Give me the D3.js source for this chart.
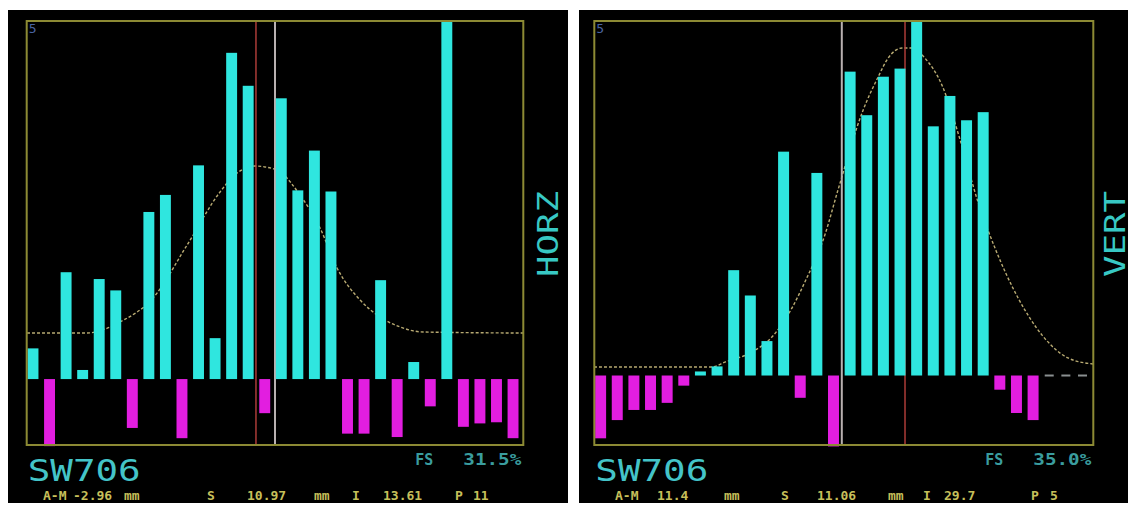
<!DOCTYPE html>
<html><head><meta charset="utf-8">
<script src="https://cdn.jsdelivr.net/npm/d3@7"></script>
<style>html,body{margin:0;padding:0;background:#fff;}svg{display:block;}</style>
</head><body>
<svg id="chart" width="1132" height="505"></svg>
<script>
// ---------------- DATA ----------------
const bins = d3.range(30); // 30 histogram bins per panel

// HORZ panel (positive = cyan, negative = magenta), % of full scale
const horzValues = [2.7, -5.9, 9.4, 0.8, 8.8, 7.8, -4.3, 14.7, 16.2, -5.2,
                    18.8, 3.6, 28.7, 25.8, -3.0, 24.7, 16.6, 20.1, 16.5, -4.8,
                    -4.8, 8.7, -5.1, 1.5, -2.4, 31.5, -4.2, -3.9, -3.8, -5.2];
// VERT panel
const vertValues = [-6.2, -4.4, -3.4, -3.4, -2.7, -1.0, 0.4, 0.9, 10.4, 7.9,
                    3.4, 22.1, -2.2, 20.0, -7.0, 30.0, 25.7, 29.5, 30.3, 35.0,
                    24.6, 27.6, 25.2, 26.0, -1.4, -3.7, -4.4, 0, 0, 0];

// fitted curves (bin position, value)
const horzCurveX = [-0.36, 3.26, 4.35, 5.26, 7.25, 9.31, 11.30, 12.33, 13.41, 14.02, 14.93, 16.13, 17.34, 18.37, 19.76, 20.97, 22.18, 23.57, 29.61];
const horzCurveY = [4.05, 4.05, 4.40, 5.02, 7.13, 11.79, 16.46, 18.13, 18.74, 18.66, 18.22, 16.19, 13.29, 9.77, 6.95, 5.46, 4.58, 4.14, 4.05];
const vertCurveX = [-0.40, 6.69, 7.48, 9.10, 10.30, 11.50, 12.28, 13.48, 14.27, 15.78, 16.68, 17.28, 18.12, 18.72, 19.50, 20.52, 21.62, 22.69, 23.71, 25.10, 26.54, 28.10, 29.60];
const vertCurveY = [0.84, 0.84, 1.33, 2.32, 3.80, 6.66, 9.23, 13.87, 18.31, 26.20, 29.46, 31.33, 32.33, 32.33, 31.33, 28.67, 23.24, 17.12, 12.58, 7.65, 3.99, 1.73, 1.14];

// marker lines (bin position): mean (red) and centre (white)
const horzMarkers = [13.47, 14.62];
const vertMarkers = [18.30, 14.50];

// scale ranges (lowest value, full scale) per panel
const horzScale = [-5.8, 31.5];
const vertScale = [-6.86, 35.0];

// texts
const panelNames = ["HORZ", "VERT"];
const titleText = "SW706";
const fsLabels = ["31.5%", "35.0%"];
const horzStats = ["A-M", "-2.96", "mm", "S", "10.97", "mm", "I", "13.61", "P", "11"];
const vertStats = ["A-M", "11.4", "mm", "S", "11.06", "mm", "I", "29.7", "P", "5"];

// ---------------- LAYOUT ----------------
const svg = d3.select("#chart");
const CYAN = "#2fe6df", MAG = "#e21ee0", FRAME = "#8c8a34";

const panels = [
  { bg: [8, 10, 560, 493], frame: {l: 26.7, r: 523.3, t: 21, b: 445}, nameX: 35,
    values: horzValues, cx: horzCurveX, cy: horzCurveY, markers: horzMarkers,
    dom: horzScale, name: panelNames[0], fs: fsLabels[0], stats: horzStats,
    statX: [43, 73, 124, 207, 247, 314, 352, 383, 455, 473] },
  { bg: [579, 10, 549, 493], frame: {l: 594.3, r: 1093.3, t: 21, b: 445}, nameX: 32,
    values: vertValues, cx: vertCurveX, cy: vertCurveY, markers: vertMarkers,
    dom: vertScale, name: panelNames[1], fs: fsLabels[1], stats: vertStats,
    statX: [615, 657, 724, 781, 817, 888, 923, 944, 1031, 1050] }
];

panels.forEach(p => {
  const g = svg.append("g");
  g.append("rect").attr("x", p.bg[0]).attr("y", p.bg[1]).attr("width", p.bg[2]).attr("height", p.bg[3]).attr("fill", "#000");
  const f = p.frame;
  const x = d3.scaleLinear().domain([-0.38, 29.62]).range([f.l, f.r]);
  const y = d3.scaleLinear().domain(p.dom).range([f.b, f.t]);
  const bw = x(0.33) - x(-0.33);

  // fitted curve (beneath bars)
  const pts = p.cx.map((v, i) => [v, p.cy[i]]);
  g.append("path").datum(pts)
    .attr("d", d3.line().x(d => x(d[0])).y(d => y(d[1])).curve(d3.curveMonotoneX))
    .attr("fill", "none").attr("stroke", "#b8aa72").attr("stroke-width", 1.4)
    .attr("stroke-dasharray", "3,2");

  // marker lines
  g.selectAll("line.mk").data(p.markers).join("line")
    .attr("x1", d => x(d)).attr("x2", d => x(d)).attr("y1", f.t).attr("y2", f.b)
    .attr("stroke", (d, i) => i === 0 ? "#b8403c" : "#b8b0b0")
    .attr("stroke-width", (d, i) => i === 0 ? 1.4 : 2);

  // bars
  g.selectAll("rect.bar").data(bins.filter(i => p.values[i] !== 0)).join("rect")
    .attr("x", i => x(i) - bw / 2).attr("width", bw)
    .attr("y", i => p.values[i] > 0 ? y(p.values[i]) : y(0))
    .attr("height", i => Math.abs(y(p.values[i]) - y(0)))
    .attr("fill", i => p.values[i] > 0 ? CYAN : MAG);

  // zero bins as grey dashes on the baseline
  g.selectAll("line.zero").data(bins.filter(i => p.values[i] === 0)).join("line")
    .attr("x1", i => x(i) - 5).attr("x2", i => x(i) + 4)
    .attr("y1", y(0)).attr("y2", y(0))
    .attr("stroke", "#8a8f90").attr("stroke-width", 2);

  // frame
  g.append("rect").attr("x", f.l).attr("y", f.t).attr("width", f.r - f.l).attr("height", f.b - f.t)
    .attr("fill", "none").attr("stroke", FRAME).attr("stroke-width", 2);

  // small scale label
  g.append("text").attr("x", f.l + 2).attr("y", f.t + 12).text("5")
    .attr("font-family", "DejaVu Sans Mono").attr("font-size", 13).attr("fill", "#4a64a0");

  // panel name (rotated)
  g.append("text").attr("transform", `translate(${f.r + p.nameX},${234}) rotate(-90)`)
    .attr("text-anchor", "middle").text(p.name)
    .attr("font-family", "DejaVu Sans Mono").attr("font-size", 29)
    .attr("textLength", 86).attr("lengthAdjust", "spacingAndGlyphs")
    .attr("fill", "#38c8c4");

  // title
  g.append("text").attr("x", f.l + 1).attr("y", 481).text(titleText)
    .attr("font-family", "DejaVu Sans Mono").attr("font-size", 31)
    .attr("textLength", 113).attr("lengthAdjust", "spacingAndGlyphs")
    .attr("fill", "#44c4c8");

  // full-scale label
  g.append("text").attr("x", f.r - 108).attr("y", 465).text("FS")
    .attr("font-family", "DejaVu Sans Mono").attr("font-weight", "bold").attr("font-size", 15)
    .attr("fill", "#3a9c9e");
  g.append("text").attr("x", f.r - 2).attr("y", 465).attr("text-anchor", "end").text(p.fs)
    .attr("font-family", "DejaVu Sans Mono").attr("font-weight", "bold").attr("font-size", 15)
    .attr("textLength", 58).attr("lengthAdjust", "spacingAndGlyphs")
    .attr("fill", "#3a9c9e");

  // stats line
  g.selectAll("text.st").data(p.stats).join("text")
    .attr("x", (d, i) => p.statX[i]).attr("y", 500).text(d => d)
    .attr("font-family", "DejaVu Sans Mono").attr("font-weight", "bold").attr("font-size", 13)
    .attr("fill", "#c6bf5a");
});
</script>
</body></html>
